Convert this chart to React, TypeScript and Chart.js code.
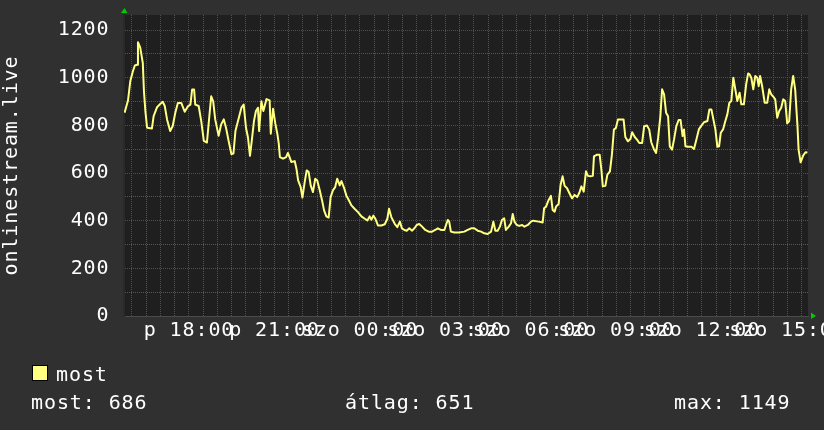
import React, { useEffect, useRef } from "react";
import { Chart, registerables } from "chart.js";

Chart.register(...registerables);

// ---- data (hours since Friday 00:00, viewer counts) ----
const sampleHours = [
  15.74, 15.86, 15.94, 16.03, 16.1, 16.18, 16.21, 16.29, 16.38, 16.42, 16.47, 16.53, 16.7, 16.76, 16.88, 16.99,
  17.08, 17.15, 17.23, 17.34, 17.43, 17.52, 17.61, 17.73, 17.85, 17.97, 18.05, 18.11, 18.18, 18.22, 18.34, 18.43,
  18.52, 18.63, 18.71, 18.78, 18.85, 18.92, 19.04, 19.13, 19.22, 19.3, 19.39, 19.49, 19.56, 19.63, 19.72, 19.84,
  19.92, 20.0, 20.07, 20.14, 20.21, 20.28, 20.35, 20.42, 20.46, 20.54, 20.61, 20.72, 20.83, 20.87, 20.95, 21.03,
  21.1, 21.15, 21.19, 21.3, 21.41, 21.47, 21.53, 21.59, 21.71, 21.77, 21.83, 21.92, 21.98, 22.06, 22.13, 22.2,
  22.27, 22.35, 22.43, 22.5, 22.59, 22.67, 22.74, 22.82, 22.9, 22.97, 23.05, 23.13, 23.2, 23.29, 23.35, 23.44,
  23.52, 23.6, 23.7, 23.81, 23.93, 24.05, 24.17, 24.26, 24.34, 24.4, 24.47, 24.54, 24.63, 24.75, 24.87, 24.96,
  25.02, 25.1, 25.22, 25.31, 25.4, 25.47, 25.56, 25.64, 25.73, 25.83, 25.91, 25.99, 26.08, 26.18, 26.29, 26.41,
  26.53, 26.64, 26.73, 26.84, 26.96, 27.02, 27.08, 27.13, 27.19, 27.31, 27.48, 27.66, 27.78, 27.9, 28.01, 28.13,
  28.25, 28.36, 28.48, 28.6, 28.68, 28.75, 28.83, 28.91, 28.98, 29.06, 29.12, 29.22, 29.3, 29.36, 29.42, 29.5,
  29.59, 29.69, 29.77, 29.89, 30.0, 30.08, 30.27, 30.41, 30.46, 30.53, 30.62, 30.7, 30.76, 30.83, 30.88, 30.97,
  31.04, 31.11, 31.18, 31.26, 31.35, 31.44, 31.53, 31.62, 31.7, 31.77, 31.85, 31.93, 32.0, 32.08, 32.17, 32.21,
  32.32, 32.41, 32.47, 32.52, 32.61, 32.68, 32.77, 32.84, 32.91, 32.98, 33.05, 33.25, 33.31, 33.4, 33.49, 33.55,
  33.64, 33.72, 33.8, 33.9, 33.97, 34.07, 34.15, 34.22, 34.31, 34.39, 34.46, 34.54, 34.6, 34.67, 34.74, 34.81,
  34.87, 34.95, 35.02, 35.1, 35.18, 35.25, 35.32, 35.37, 35.42, 35.49, 35.63, 35.72, 35.8, 35.89, 35.98, 36.07,
  36.19, 36.26, 36.33, 36.4, 36.47, 36.54, 36.6, 36.66, 36.74, 36.82, 36.89, 36.96, 37.03, 37.1, 37.17, 37.24,
  37.32, 37.38, 37.47, 37.55, 37.62, 37.67, 37.73, 37.8, 37.87, 37.94, 37.99, 38.04, 38.11, 38.2, 38.29, 38.36,
  38.43, 38.53, 38.57, 38.64, 38.71, 38.78, 38.85, 38.92, 38.99, 39.06, 39.13, 39.2, 39.27, 39.35, 39.39, 39.46,
  39.55, 39.63, 39.7,
];

const viewers = [
  853, 904, 985, 1026, 1051, 1054, 1149, 1126, 1061, 943, 860, 790, 787, 839, 876, 890,
  899, 881, 825, 776, 797, 853, 894, 894, 857, 881, 887, 950, 950, 887, 881, 818,
  735, 728, 832, 922, 901, 825, 756, 804, 825, 790, 735, 679, 682, 776, 818, 874,
  887, 790, 749, 672, 742, 818, 860, 874, 776, 901, 860, 910, 905, 765, 870, 807,
  765, 723, 667, 660, 667, 684, 667, 646, 650, 618, 569, 541, 497, 562, 611, 604,
  548, 520, 576, 569, 527, 485, 443, 418, 413, 499, 527, 541, 576, 548, 566, 538,
  506, 488, 464, 450, 436, 418, 408, 401, 418, 404, 421, 408, 380, 380, 385, 408,
  450, 415, 387, 373, 396, 368, 361, 358, 368, 358, 368, 382, 386, 375, 361, 354,
  354, 361, 368, 361, 361, 382, 403, 396, 354, 350, 350, 354, 361, 368, 368, 358,
  354, 347, 344, 354, 396, 358, 358, 375, 403, 410, 361, 375, 389, 428, 396, 382,
  378, 382, 375, 382, 396, 400, 396, 392, 452, 459, 487, 504, 445, 438, 459, 470,
  551, 586, 546, 537, 515, 494, 508, 499, 518, 544, 522, 607, 588, 586, 588, 670,
  677, 677, 614, 544, 546, 593, 607, 677, 782, 789, 824, 824, 751, 733, 743, 771,
  751, 740, 726, 726, 796, 799, 782, 729, 701, 684, 747, 838, 951, 930, 853, 838,
  712, 698, 741, 797, 822, 822, 755, 783, 712, 710, 710, 701, 738, 783, 799, 813,
  818, 867, 867, 825, 783, 710, 712, 769, 783, 818, 846, 895, 902, 1000, 951, 902,
  937, 888, 888, 972, 1018, 1014, 1000, 951, 1007, 1000, 965, 1007, 965, 895, 895, 951,
  930, 916, 909, 832, 860, 874, 909, 902, 808, 818, 951, 1007, 951, 799, 698, 645,
  673, 687, 686,
];

const xRange = [15.72, 39.72];
const xTickHours = [18, 21, 24, 27, 30, 33, 36, 39];
const xTickLabels = ["p 18:00", "p 21:00", "szo 00:00", "szo 03:00", "szo 06:00", "szo 09:00", "szo 12:00", "szo 15:00"];
const yRange = [0, 1263];
const yLabelStep = 200;
const yGridStep = 100;

const axisTitle = "onlinestream.live";
const seriesName = "most";
const statLabels = ["most", "átlag", "max"];
const statValues = [686, 651, 1149];

const FONT = "'DejaVu Sans Mono', monospace";
const LINE = "#ffff80";
const MAJOR = "#7c3c3c";
const MINOR = "#555555";

export default function App() {
  const ref = useRef<HTMLCanvasElement>(null);

  useEffect(() => {
    document.body.style.margin = "0";
    const canvas = ref.current!;

    const gridHours: number[] = [];
    for (let h = Math.ceil(xRange[0] * 2) / 2; h <= xRange[1]; h += 0.5) gridHours.push(h);
    const gridValues: number[] = [];
    for (let v = 0; v <= yRange[1]; v += yGridStep) gridValues.push(v);

    const bgPlugin = {
      id: "rrdBg",
      beforeDraw(chart: any) {
        const { ctx, chartArea: a, width, height } = chart;
        ctx.save();
        ctx.fillStyle = "#303030";
        ctx.fillRect(0, 0, width, height);
        ctx.fillStyle = "#1f1f1f";
        ctx.fillRect(a.left, a.top, a.right - a.left, a.bottom - a.top);
        ctx.restore();
        (ctx as any).letterSpacing = "0.9px";
      },
      afterDraw(chart: any) {
        const { ctx, chartArea: a } = chart;
        ctx.save();
        ctx.fillStyle = "#00cc00";
        ctx.beginPath();
        ctx.moveTo(a.left - 3, a.top - 2);
        ctx.lineTo(a.left + 3.5, a.top - 2);
        ctx.lineTo(a.left + 0.5, a.top - 7);
        ctx.closePath();
        ctx.fill();
        ctx.beginPath();
        ctx.moveTo(a.right + 3, a.bottom - 3.5);
        ctx.lineTo(a.right + 3, a.bottom + 3);
        ctx.lineTo(a.right + 8, a.bottom);
        ctx.closePath();
        ctx.fill();
        ctx.restore();
      },
    };

    const chart = new Chart(canvas, {
      type: "line",
      data: {
        datasets: [
          {
            label: seriesName,
            data: sampleHours.map((h, i) => ({ x: h, y: viewers[i] })),
            borderColor: LINE,
            borderWidth: 2,
            pointRadius: 0,
            fill: false,
            tension: 0,
            borderJoinStyle: "round",
          },
        ],
      },
      options: {
        animation: false,
        responsive: false,
        maintainAspectRatio: false,
        events: [],
        layout: { padding: { left: 0, top: 15, right: 16, bottom: 0 } },
        plugins: { legend: { display: false }, tooltip: { enabled: false }, title: { display: false } },
        scales: {
          x: {
            type: "linear",
            min: xRange[0],
            max: xRange[1],
            afterBuildTicks: (s: any) => {
              s.ticks = gridHours.map((v) => ({ value: v }));
            },
            afterFit: (s: any) => {
              s.height = 114;
              s.paddingLeft = 0;
              s.paddingRight = 0;
              s.paddingTop = 0;
              s.paddingBottom = 0;
            },
            ticks: {
              autoSkip: false,
              maxRotation: 0,
              minRotation: 0,
              padding: 3,
              color: "#ffffff",
              font: { family: FONT, size: 20 },
              callback: (v: any) => {
                const i = xTickHours.findIndex((h) => Math.abs(h - Number(v)) < 1e-6);
                return i >= 0 ? xTickLabels[i] : "";
              },
            },
            grid: {
              drawTicks: false,
              lineWidth: 1,
              color: (c: any) => (c.tick && Math.abs(c.tick.value - Math.round(c.tick.value)) < 1e-6 ? MAJOR : MINOR),
            },
            border: { display: true, color: "#4a4a4a", width: 1, dash: [1, 1] },
          },
          y: {
            type: "linear",
            min: yRange[0],
            max: yRange[1],
            afterBuildTicks: (s: any) => {
              s.ticks = gridValues.map((v) => ({ value: v }));
            },
            afterFit: (s: any) => {
              s.width = 124;
              s.paddingTop = 0;
              s.paddingBottom = 0;
              s.paddingLeft = 0;
              s.paddingRight = 0;
            },
            ticks: {
              autoSkip: false,
              padding: 14.5,
              color: "#ffffff",
              font: { family: FONT, size: 20 },
              callback: (v: any) => (Number(v) % yLabelStep === 0 ? String(v) : ""),
            },
            grid: {
              drawTicks: false,
              lineWidth: 1,
              color: (c: any) => (c.tick && c.tick.value % yLabelStep === 0 ? MAJOR : MINOR),
            },
            border: { display: true, color: "#2a2a2a", width: 2, dash: [1, 1] },
            title: {
              display: true,
              text: axisTitle,
              color: "#ffffff",
              font: { family: FONT, size: 20 },
              padding: { top: 0, bottom: 0 },
            },
          },
        },
      },
      plugins: [bgPlugin],
    } as any);

    return () => chart.destroy();
  }, []);

  const textStyle: React.CSSProperties = {
    position: "absolute",
    fontFamily: FONT,
    fontSize: 20,
    lineHeight: "24px",
    letterSpacing: "0.9px",
    color: "#ffffff",
    whiteSpace: "pre",
  };
  const statLefts = [31, 345, 674];

  return (
    <div style={{ position: "relative", width: 824, height: 430, background: "#303030", overflow: "hidden" }}>
      <canvas ref={ref} width={824} height={430} style={{ display: "block" }} />
      <div
        style={{
          position: "absolute",
          left: 32,
          top: 365,
          width: 14,
          height: 14,
          background: LINE,
          border: "1px solid #000",
        }}
      />
      <div style={{ ...textStyle, left: 56, top: 362 }}>{seriesName}</div>
      {statLabels.map((l, i) => (
        <div key={l} style={{ ...textStyle, left: statLefts[i], top: 390 }}>
          {`${l}: ${statValues[i]}`}
        </div>
      ))}
    </div>
  );
}
